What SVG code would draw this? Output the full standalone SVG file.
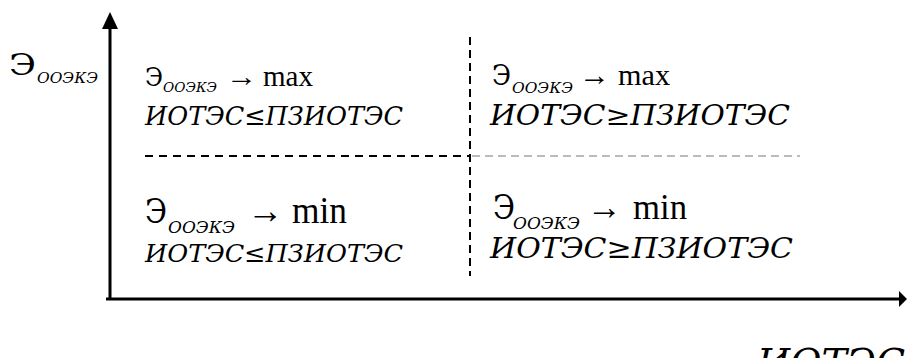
<svg xmlns="http://www.w3.org/2000/svg" width="907" height="358" viewBox="0 0 907 358">
<style>
text{font-family:'Liberation Serif','DejaVu Serif',serif;fill:#000}
.cy{font-family:'DejaVu Serif','Liberation Serif',serif}
.it{font-style:italic}
.ax{stroke:#000;stroke-width:3;fill:none}
.dv{stroke:#000;stroke-width:2;stroke-dasharray:8 5;fill:none}
.dh{stroke:#000;stroke-width:2;stroke-dasharray:8 6;fill:none}
.dg{stroke:#777;stroke-width:1;stroke-dasharray:8 5;fill:none}
</style>
<g id="connectors">
<line class="ax" x1="110" y1="300" x2="110" y2="27"/>
<polygon points="110,12 102,29 118,29" fill="#000"/>
<line class="ax" x1="106" y1="299" x2="900" y2="299"/>
<polygon points="907,299 899,291 899,307" fill="#000"/>
<line class="dv" x1="470" y1="37" x2="470" y2="276"/>
<line class="dh" x1="145" y1="156" x2="470" y2="156"/>
<line class="dg" x1="472" y1="156" x2="800" y2="156"/>
</g>
<g id="y-label">
<text class="cy" x="9" y="75" font-size="30" textLength="27" lengthAdjust="spacingAndGlyphs">Э</text>
<text class="cy it" x="37" y="83" font-size="15" textLength="61" lengthAdjust="spacingAndGlyphs">ООЭКЭ</text>
</g>
<g id="x-label">
<text class="cy it" x="757" y="375" font-size="38" textLength="148" lengthAdjust="spacingAndGlyphs">ИОТЭС</text>
</g>
<g id="cell-top-left">
<text class="cy" x="145" y="86" font-size="26" textLength="18" lengthAdjust="spacingAndGlyphs">Э</text>
<text class="cy it" x="163" y="92" font-size="13" textLength="54" lengthAdjust="spacingAndGlyphs">ООЭКЭ</text>
<text x="226" y="86" font-size="29" textLength="31" lengthAdjust="spacingAndGlyphs">→</text>
<text x="263" y="86" font-size="29" textLength="50" lengthAdjust="spacingAndGlyphs">max</text>
<text class="cy it" x="145" y="125" font-size="26" textLength="258" lengthAdjust="spacingAndGlyphs">ИОТЭС≤ПЗИОТЭС</text>
</g>
<g id="cell-top-right">
<text class="cy" x="492" y="85" font-size="27" textLength="19" lengthAdjust="spacingAndGlyphs">Э</text>
<text class="cy it" x="512" y="93" font-size="15" textLength="61" lengthAdjust="spacingAndGlyphs">ООЭКЭ</text>
<text x="579" y="85" font-size="30" textLength="31" lengthAdjust="spacingAndGlyphs">→</text>
<text x="618" y="85" font-size="30" textLength="52" lengthAdjust="spacingAndGlyphs">max</text>
<text class="cy it" x="490" y="125" font-size="27" textLength="300" lengthAdjust="spacingAndGlyphs">ИОТЭС≥ПЗИОТЭС</text>
</g>
<g id="cell-bottom-left">
<text class="cy" x="145" y="223" font-size="33" textLength="22" lengthAdjust="spacingAndGlyphs">Э</text>
<text class="cy it" x="168" y="233" font-size="17" textLength="67" lengthAdjust="spacingAndGlyphs">ООЭКЭ</text>
<text x="247" y="223" font-size="37" textLength="36" lengthAdjust="spacingAndGlyphs">→</text>
<text x="292" y="223" font-size="37" textLength="55" lengthAdjust="spacingAndGlyphs">min</text>
<text class="cy it" x="145" y="262" font-size="25" textLength="258" lengthAdjust="spacingAndGlyphs">ИОТЭС≤ПЗИОТЭС</text>
</g>
<g id="cell-bottom-right">
<text class="cy" x="493" y="219" font-size="33" textLength="22" lengthAdjust="spacingAndGlyphs">Э</text>
<text class="cy it" x="513" y="229" font-size="16" textLength="67" lengthAdjust="spacingAndGlyphs">ООЭКЭ</text>
<text x="587" y="219" font-size="36" textLength="35" lengthAdjust="spacingAndGlyphs">→</text>
<text x="633" y="219" font-size="36" textLength="54" lengthAdjust="spacingAndGlyphs">min</text>
<text class="cy it" x="490" y="258" font-size="28" textLength="303" lengthAdjust="spacingAndGlyphs">ИОТЭС≥ПЗИОТЭС</text>
</g>
</svg>
